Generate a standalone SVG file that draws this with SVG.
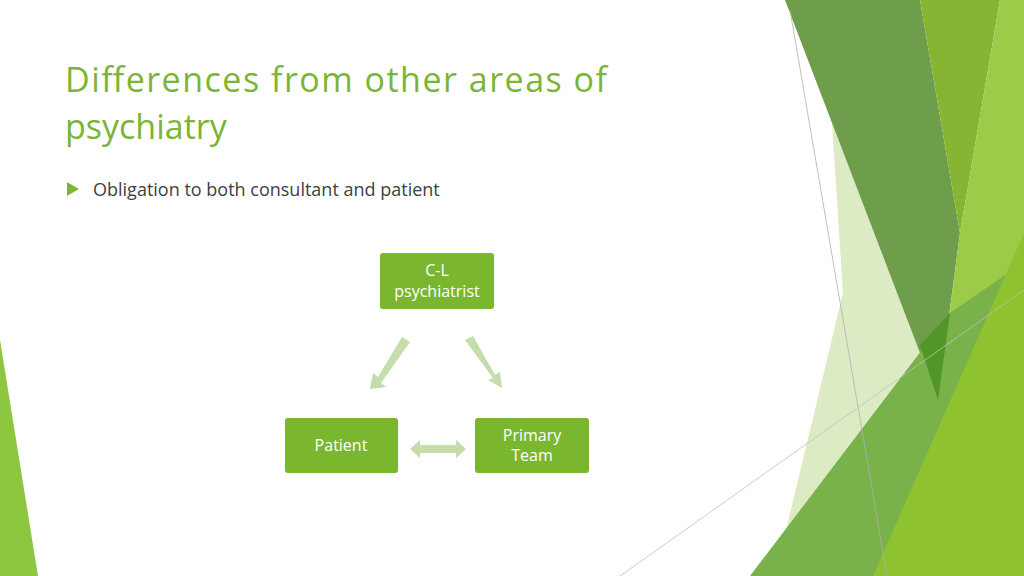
<svg xmlns="http://www.w3.org/2000/svg" width="1024" height="576" viewBox="0 0 1024 576">
<style>
.box{fill:#7ab72f}
.bt{font-family:"Open Sans","DejaVu Sans",sans-serif;font-size:16px;fill:#fff;text-anchor:middle}
.ar{fill:#c5dcab}
</style>
<rect width="1024" height="576" fill="#fff"/>
<g id="decor">
<polygon points="0,340 38,576 0,576" fill="#8dc63f"/>
<polygon points="832,123 938,400 900,576 775,576 843,293" fill="#dcebc4"/>
<polygon points="785,0 920,0 960,233 938,400" fill="#6e9e4c"/>
<polygon points="920,0 1000,0 960,233" fill="#86b533"/>
<polygon points="1000,0 1024,0 1024,576 900,576 938,400 960,233" fill="#9ccb48"/>
<polygon points="750,576 950,313 1024,262 1024,576" fill="#79b14a"/>
<polygon points="920,345 950,313 938,400" fill="#529528"/>
<polygon points="873,576 1024,233 1024,576" fill="#8ec22f"/>
<line x1="790" y1="10" x2="887" y2="576" stroke="#b0b0b0" stroke-width="0.8"/>
<line x1="620" y1="576" x2="1024" y2="290" stroke="#c0c0c0" stroke-width="0.8"/>
</g>
<text x="65" y="92" font-family="'Open Sans','DejaVu Sans',sans-serif" font-size="34" fill="#7ab536" textLength="542">Differences from other areas of</text>
<text x="65" y="139" font-family="'Open Sans','DejaVu Sans',sans-serif" font-size="34" fill="#7ab536">psychiatry</text>
<polygon points="67,182 79,189 67,196" fill="#7ab536"/>
<text x="93" y="196" font-family="'Open Sans','DejaVu Sans',sans-serif" font-size="18" fill="#404040">Obligation to both consultant and patient</text>
<g id="connectors">
<polygon class="ar" points="402,337 410,342 381,383 386,387 370,389 373,373 378,377"/>
<polygon class="ar" points="465,340 473,336 495,375 500,372 502,388 488,380 493,378"/>
<polygon class="ar" points="410,449 420,440 420,445 456,445 456,440 466,449 456,458 456,453 420,453 420,458"/>
</g>
<g id="n1"><rect class="box" x="380" y="253" width="114" height="56" rx="3"/><text class="bt" x="437" y="276">C-L</text><text class="bt" x="437" y="297">psychiatrist</text></g>
<g id="n2"><rect class="box" x="285" y="418" width="113" height="55" rx="3"/><text class="bt" x="341" y="451">Patient</text></g>
<g id="n3"><rect class="box" x="475" y="418" width="114" height="55" rx="3"/><text class="bt" x="532" y="441">Primary</text><text class="bt" x="532" y="461">Team</text></g>
</svg>
